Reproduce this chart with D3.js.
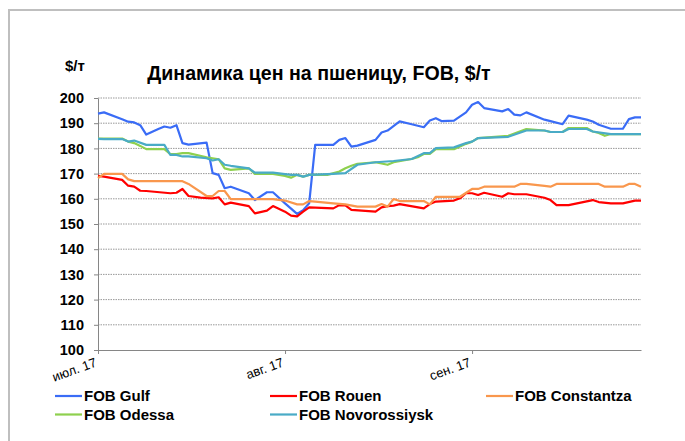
<!DOCTYPE html>
<html>
<head>
<meta charset="utf-8">
<script src="https://cdn.jsdelivr.net/npm/d3@7"></script>
<style>
  body { margin: 0; background: #fff; }
  svg { font-family: "Liberation Sans", Arial, sans-serif; }
  .grid line { stroke: #999; stroke-dasharray: 1.5,1; }
  .axis path, .axis line { stroke: #868686; }
</style>
</head>
<body>
<div id="chart"></div>
<script>
// Series names, colours
var keys = ["FOB Gulf", "FOB Rouen", "FOB Constantza", "FOB Odessa", "FOB Novorossiysk"];
var colors = ["#3a6cf6", "#ff0000", "#f9974d", "#8ed04e", "#49abc6"];

// Y ticks
var yTicks = [100, 110, 120, 130, 140, 150, 160, 170, 180, 190, 200];

// X ticks (months)
var xTicks = ["2017-07-01", "2017-08-01", "2017-09-01"];

// Data: [date, $/t]
var gulf = [
  ["2017-07-01", 193.8], ["2017-07-02", 194.3], ["2017-07-05", 191.6], ["2017-07-06", 190.6],
  ["2017-07-07", 190.3], ["2017-07-08", 189.2], ["2017-07-09", 185.5], ["2017-07-11", 187.7],
  ["2017-07-12", 188.7], ["2017-07-13", 188.2], ["2017-07-14", 189.2], ["2017-07-15", 182.1],
  ["2017-07-16", 181.5], ["2017-07-19", 182.3], ["2017-07-20", 170.2], ["2017-07-21", 169.5],
  ["2017-07-22", 164.2], ["2017-07-23", 164.8], ["2017-07-26", 162.2], ["2017-07-27", 159.5],
  ["2017-07-29", 162.6], ["2017-07-30", 162.6], ["2017-08-01", 158.2], ["2017-08-03", 154.0],
  ["2017-08-04", 155.5], ["2017-08-05", 158.2], ["2017-08-06", 181.4], ["2017-08-09", 181.4],
  ["2017-08-10", 183.4], ["2017-08-11", 184.1], ["2017-08-12", 180.7], ["2017-08-13", 181.1],
  ["2017-08-16", 183.4], ["2017-08-17", 186.3], ["2017-08-18", 187.1], ["2017-08-20", 190.7],
  ["2017-08-22", 189.6], ["2017-08-24", 188.4], ["2017-08-25", 191.1], ["2017-08-26", 192.0],
  ["2017-08-27", 190.8], ["2017-08-29", 191.0], ["2017-08-31", 194.3], ["2017-09-01", 197.3],
  ["2017-09-02", 198.4], ["2017-09-03", 196.0], ["2017-09-06", 194.7], ["2017-09-07", 195.6],
  ["2017-09-08", 193.4], ["2017-09-09", 193.1], ["2017-09-10", 194.3], ["2017-09-13", 191.4],
  ["2017-09-14", 190.8], ["2017-09-16", 189.6], ["2017-09-17", 193.0], ["2017-09-20", 191.4],
  ["2017-09-21", 190.7], ["2017-09-22", 189.4], ["2017-09-24", 187.8], ["2017-09-26", 187.8],
  ["2017-09-27", 191.6], ["2017-09-28", 192.3], ["2017-09-29", 192.3]
];

var rouen = [
  ["2017-07-01", 169.1], ["2017-07-02", 168.8], ["2017-07-05", 167.5], ["2017-07-06", 165.2],
  ["2017-07-07", 164.8], ["2017-07-08", 163.2], ["2017-07-09", 163.1], ["2017-07-13", 162.2],
  ["2017-07-14", 162.4], ["2017-07-15", 163.9], ["2017-07-16", 161.1], ["2017-07-18", 160.5],
  ["2017-07-20", 160.2], ["2017-07-21", 160.6], ["2017-07-22", 157.8], ["2017-07-23", 158.5],
  ["2017-07-26", 157.1], ["2017-07-27", 154.2], ["2017-07-29", 155.3], ["2017-07-30", 157.1],
  ["2017-08-01", 154.9], ["2017-08-02", 153.3], ["2017-08-03", 153.0], ["2017-08-04", 154.9],
  ["2017-08-05", 156.6], ["2017-08-09", 156.2], ["2017-08-10", 157.5], ["2017-08-11", 157.4],
  ["2017-08-12", 155.6], ["2017-08-16", 154.9], ["2017-08-17", 156.6], ["2017-08-18", 157.1],
  ["2017-08-19", 157.3], ["2017-08-20", 157.9], ["2017-08-24", 156.2], ["2017-08-25", 157.9],
  ["2017-08-26", 158.9], ["2017-08-29", 159.3], ["2017-08-30", 160.2], ["2017-08-31", 162.2],
  ["2017-09-01", 162.2], ["2017-09-02", 161.5], ["2017-09-03", 162.4], ["2017-09-06", 160.8],
  ["2017-09-07", 162.2], ["2017-09-08", 161.8], ["2017-09-10", 161.8], ["2017-09-13", 160.4],
  ["2017-09-14", 159.5], ["2017-09-15", 157.5], ["2017-09-17", 157.5], ["2017-09-21", 159.5],
  ["2017-09-22", 158.7], ["2017-09-24", 158.2], ["2017-09-26", 158.2], ["2017-09-28", 159.3],
  ["2017-09-29", 159.3]
];

var constantza = [
  ["2017-07-01", 168.2], ["2017-07-02", 169.9], ["2017-07-05", 169.9], ["2017-07-06", 167.7],
  ["2017-07-07", 167.0], ["2017-07-15", 167.0], ["2017-07-16", 165.9], ["2017-07-19", 161.1],
  ["2017-07-20", 161.1], ["2017-07-21", 163.1], ["2017-07-22", 163.1], ["2017-07-23", 159.9],
  ["2017-07-30", 159.9], ["2017-08-01", 159.3], ["2017-08-03", 157.8], ["2017-08-04", 157.8],
  ["2017-08-05", 159.1], ["2017-08-06", 158.9], ["2017-08-09", 158.2], ["2017-08-11", 157.8],
  ["2017-08-13", 156.9], ["2017-08-16", 156.9], ["2017-08-17", 157.9], ["2017-08-18", 156.9],
  ["2017-08-19", 159.9], ["2017-08-20", 159.1], ["2017-08-24", 159.1], ["2017-08-25", 157.8],
  ["2017-08-26", 160.8], ["2017-08-30", 160.8], ["2017-09-01", 163.9], ["2017-09-02", 163.9],
  ["2017-09-03", 164.8], ["2017-09-08", 164.8], ["2017-09-09", 165.9], ["2017-09-10", 165.9],
  ["2017-09-13", 165.1], ["2017-09-14", 164.8], ["2017-09-15", 165.9], ["2017-09-22", 165.9],
  ["2017-09-23", 164.8], ["2017-09-26", 164.8], ["2017-09-27", 165.9], ["2017-09-28", 165.9],
  ["2017-09-29", 164.8]
];

var odessa = [
  ["2017-07-01", 183.9], ["2017-07-05", 183.9], ["2017-07-06", 182.7], ["2017-07-07", 182.1],
  ["2017-07-08", 181.0], ["2017-07-09", 179.7], ["2017-07-12", 179.7], ["2017-07-13", 177.7],
  ["2017-07-14", 177.7], ["2017-07-15", 178.1], ["2017-07-16", 178.1], ["2017-07-19", 176.5],
  ["2017-07-21", 175.7], ["2017-07-22", 172.1], ["2017-07-23", 171.5], ["2017-07-26", 172.1],
  ["2017-07-27", 169.9], ["2017-07-30", 169.9], ["2017-08-01", 169.1], ["2017-08-02", 168.4],
  ["2017-08-03", 169.5], ["2017-08-04", 168.8], ["2017-08-05", 169.5], ["2017-08-08", 169.5],
  ["2017-08-10", 170.8], ["2017-08-11", 172.1], ["2017-08-12", 173.1], ["2017-08-13", 173.9],
  ["2017-08-16", 174.5], ["2017-08-18", 173.5], ["2017-08-19", 174.5], ["2017-08-22", 175.8],
  ["2017-08-23", 176.5], ["2017-08-24", 177.8], ["2017-08-25", 177.8], ["2017-08-26", 179.7],
  ["2017-08-29", 179.7], ["2017-08-31", 181.8], ["2017-09-01", 182.7], ["2017-09-02", 184.1],
  ["2017-09-07", 185.0], ["2017-09-10", 187.7], ["2017-09-13", 187.1], ["2017-09-14", 186.5],
  ["2017-09-16", 186.5], ["2017-09-17", 188.1], ["2017-09-20", 188.1], ["2017-09-21", 186.7],
  ["2017-09-22", 186.1], ["2017-09-23", 185.0], ["2017-09-24", 185.7], ["2017-09-29", 185.7]
];

var novorossiysk = [
  ["2017-07-01", 183.8], ["2017-07-02", 183.7], ["2017-07-05", 183.7], ["2017-07-06", 182.7],
  ["2017-07-07", 183.1], ["2017-07-09", 181.4], ["2017-07-12", 181.4], ["2017-07-13", 177.4],
  ["2017-07-14", 177.4], ["2017-07-15", 176.8], ["2017-07-16", 176.8], ["2017-07-19", 176.1],
  ["2017-07-20", 175.2], ["2017-07-21", 175.7], ["2017-07-22", 173.5], ["2017-07-23", 173.1],
  ["2017-07-26", 172.1], ["2017-07-27", 170.4], ["2017-07-30", 170.4], ["2017-08-02", 169.5],
  ["2017-08-03", 169.5], ["2017-08-04", 168.8], ["2017-08-05", 169.5], ["2017-08-09", 169.9],
  ["2017-08-11", 170.2], ["2017-08-13", 173.5], ["2017-08-16", 174.5], ["2017-08-19", 175.0],
  ["2017-08-22", 175.8], ["2017-08-24", 178.1], ["2017-08-25", 178.1], ["2017-08-26", 180.1],
  ["2017-08-29", 180.4], ["2017-08-31", 182.1], ["2017-09-01", 182.7], ["2017-09-02", 184.1],
  ["2017-09-07", 184.6], ["2017-09-10", 187.1], ["2017-09-13", 187.1], ["2017-09-14", 186.5],
  ["2017-09-16", 186.5], ["2017-09-17", 187.7], ["2017-09-20", 187.7], ["2017-09-21", 186.7],
  ["2017-09-24", 185.7], ["2017-09-29", 185.7]
];

var series = [gulf, rouen, constantza, odessa, novorossiysk];

// Canvas
var W = 685, H = 441;
var plot = { left: 98, right: 641, top: 98, bottom: 350 };

var parseDate = d3.timeParse("%Y-%m-%d");
var ruMonths = ["янв.", "февр.", "мар.", "апр.", "мая", "июн.", "июл.", "авг.", "сен.", "окт.", "нояб.", "дек."];

// Scales
var x = d3.scaleTime()
    .domain([parseDate("2017-07-01"), parseDate("2017-09-29")])
    .range([plot.left, plot.right]);
var y = d3.scaleLinear().domain([100, 200]).range([plot.bottom, plot.top]);
var color = d3.scaleOrdinal().domain(keys).range(colors);

var svg = d3.select("#chart").append("svg")
    .attr("width", W)
    .attr("height", H);

// Outer frame (open at right / bottom)
svg.append("path")
    .attr("d", "M9," + H + "V10H" + W)
    .attr("fill", "none")
    .attr("stroke", "#bfbfbf")
    .attr("stroke-width", 2);

// Title
svg.append("text")
    .attr("x", 319)
    .attr("y", 80)
    .attr("text-anchor", "middle")
    .style("font-size", "19.6px")
    .style("font-weight", "bold")
    .text("Динамика цен на пшеницу, FOB, $/т");

// Unit label
svg.append("text")
    .attr("x", 65)
    .attr("y", 71)
    .style("font-size", "15px")
    .style("font-weight", "bold")
    .text("$/т");

// Gridlines
svg.append("g")
    .attr("class", "grid")
    .selectAll("line")
    .data(yTicks.filter(function (d) { return d > 100; }))
    .enter()
    .append("line")
    .attr("x1", plot.left)
    .attr("x2", plot.right)
    .attr("y1", function (d) { return y(d); })
    .attr("y2", function (d) { return y(d); });

// Y axis
var yAxis = svg.append("g")
    .attr("class", "axis")
    .attr("transform", "translate(" + plot.left + ",0)")
    .call(d3.axisLeft(y).tickValues(yTicks).tickSize(4).tickPadding(10).tickSizeOuter(0));
yAxis.selectAll("text")
    .style("font-size", "14.5px")
    .style("font-weight", "bold")
    .attr("fill", "#000");

// X axis
var xAxis = svg.append("g")
    .attr("class", "axis")
    .attr("transform", "translate(0," + plot.bottom + ")")
    .call(d3.axisBottom(x)
        .tickValues(xTicks.map(parseDate))
        .tickSize(4)
        .tickSizeOuter(0)
        .tickFormat(function (d) { return ruMonths[d.getMonth()] + " " + d3.timeFormat("%y")(d); }));
xAxis.selectAll("text")
    .style("font-size", "13px")
    .attr("fill", "#000")
    .attr("text-anchor", "end")
    .attr("y", 0)
    .attr("dy", 0)
    .attr("transform", "translate(-1,16) rotate(-20)");

// Lines
var line = d3.line()
    .x(function (d) { return x(parseDate(d[0])); })
    .y(function (d) { return y(d[1]); });

series.forEach(function (s, i) {
    svg.append("path")
        .attr("d", line(s))
        .attr("fill", "none")
        .attr("stroke", color(keys[i]))
        .attr("stroke-width", 2.2)
        .attr("stroke-linejoin", "round");
});

// Legend
var legX = [55, 270, 486];
var legY = [396, 414.5];
var legend = svg.selectAll(".legend")
    .data(keys)
    .enter()
    .append("g")
    .attr("transform", function (d, i) {
        return "translate(" + legX[i % 3] + "," + legY[Math.floor(i / 3)] + ")";
    });
legend.append("line")
    .attr("x1", 0)
    .attr("x2", 27)
    .attr("stroke", function (d) { return color(d); })
    .attr("stroke-width", 2.2);
legend.append("text")
    .attr("x", 29)
    .attr("dy", "0.36em")
    .style("font-size", "15px")
    .style("font-weight", "bold")
    .text(function (d) { return d; });
</script>
</body>
</html>
